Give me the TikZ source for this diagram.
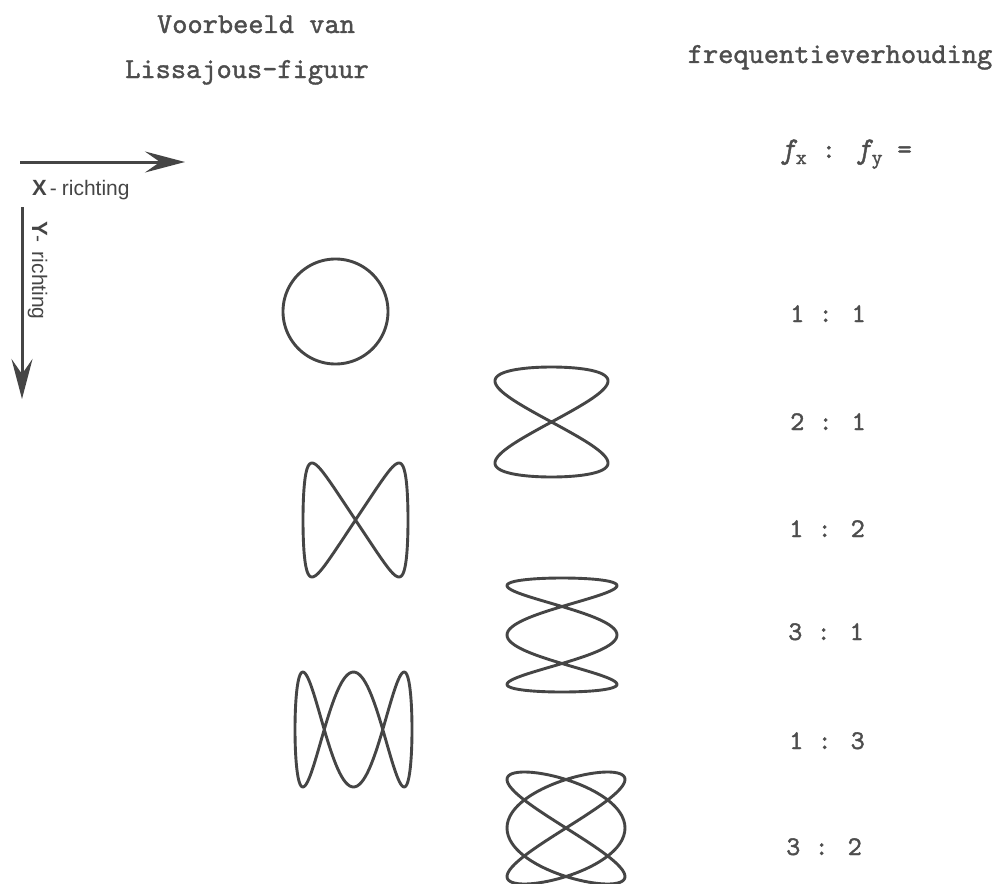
\documentclass[tikz,border=0pt]{standalone}
\usepackage{fontspec}
\newfontfamily\labelsans{Liberation Sans}
\newfontfamily\twfont[FakeBold=1.3]{lmmono10-regular.otf}
\newfontfamily\twital[FakeBold=1.3]{lmmono10-italic.otf}
\usetikzlibrary{arrows.meta}
\definecolor{ink}{HTML}{454545}
\definecolor{txt}{HTML}{4D4D4D}
\tikzset{
  liss/.style={draw=ink, line width=2.9pt, line join=round},
  tw/.style={text=txt, font=\twfont\fontsize{29}{31}\selectfont, inner sep=0pt},
  ratiotext/.style={text=txt, font=\twfont\fontsize{27}{29}\selectfont, inner sep=0pt, anchor=base},
  axisarrow/.style={draw=ink, line width=3pt, -{Stealth[length=40pt,width=21pt,inset=15pt]}},
  axislabel/.style={text=ink, inner sep=0pt},
}
\begin{document}
\begin{tikzpicture}[x=1pt,y=-1pt]
  \useasboundingbox (0,0) rectangle (998,883);
  \fill[white] (0,0) rectangle (998,883);
  \clip (0,0) rectangle (998,883);

  % titles
  \node[tw, anchor=base] (title1) at (256,33) {Voorbeeld van};
  \node[tw, anchor=base] (title2) at (247,78) {Lissajous-figuur};
  \node[tw, anchor=base] (title3) at (840,63) {frequentieverhouding};
  \node[text=txt, inner sep=0pt, anchor=base, font=\twfont\fontsize{28}{30}\selectfont] (formula) at (846,158)
    {{\twital\fontsize{30}{30}\selectfont f}\raisebox{-0.5ex}{\fontsize{21}{21}\selectfont x} : {\twital\fontsize{30}{30}\selectfont f}\raisebox{-0.5ex}{\fontsize{21}{21}\selectfont y} =};

  % axis arrows
  \coordinate (xa0) at (20,162);
  \coordinate (xa1) at (185,162);
  \draw[axisarrow] (xa0) -- (xa1);
  \coordinate (ya0) at (22,207);
  \coordinate (ya1) at (22,399);
  \draw[axisarrow] (ya0) -- (ya1);
  \node[axislabel, anchor=base west] (xlabel) at (32,195)
    {\labelsans\fontsize{22}{22}\selectfont\bfseries X\hspace{3pt}\mdseries\fontsize{21}{21}\selectfont -\hspace{5pt}richting};
  \node[axislabel, anchor=base west, rotate=-90] (ylabel) at (32,221)
    {\labelsans\fontsize{22}{22}\selectfont\bfseries Y\mdseries\fontsize{21}{21}\selectfont -\hspace{9pt}richting};

  % Lissajous figures
  \draw[liss] plot[smooth cycle, domain=0:358, samples=180, variable=\t]
    ({335.5+52.5*sin(\t)},{311.5+52.5*cos(\t)});
  \draw[liss] plot[smooth cycle, domain=0:358, samples=180, variable=\t]
    ({551.5+56.5*sin(2*\t)},{422+55*tanh(0.6*sin(\t))/tanh(0.6)});
  \draw[liss] plot[smooth cycle, domain=0:358, samples=180, variable=\t]
    ({355.5+52.5*tanh(1.2*sin(\t))/tanh(1.2)},{520+57*sin(2*\t)});
  \draw[liss] plot[smooth cycle, domain=0:358, samples=180, variable=\t]
    ({562+55*cos(3*\t)},{635+57*sin(\t)});
  \draw[liss] plot[smooth cycle, domain=0:358, samples=180, variable=\t]
    ({353.5+58.5*sin(\t)},{729.5+57.5*cos(3*\t)});
  \draw[liss] plot[smooth cycle, domain=0:358, samples=180, variable=\t]
    ({566+59*sin(3*\t)},{828+56*sin(2*\t)});

  % ratios
  \node[ratiotext] (r1) at (828,322) {1 : 1};
  \node[ratiotext] (r2) at (828,430) {2 : 1};
  \node[ratiotext] (r3) at (827,537) {1 : 2};
  \node[ratiotext] (r4) at (826,640) {3 : 1};
  \node[ratiotext] (r5) at (827,749) {1 : 3};
  \node[ratiotext] (r6) at (824,855) {3 : 2};
\end{tikzpicture}
\end{document}
